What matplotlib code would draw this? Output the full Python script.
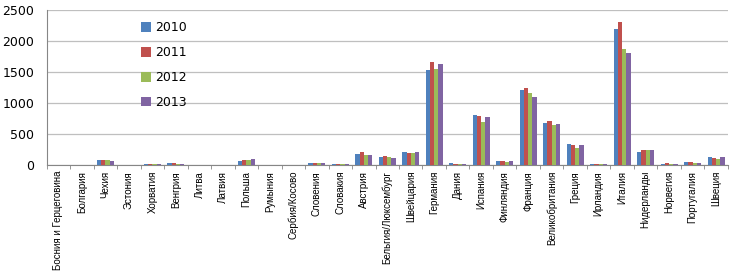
import numpy as np
import matplotlib.pyplot as plt

countries = ['Босния и Герцеговина', 'Болгария', 'Чехия', 'Эстония', 'Хорватия',
             'Венгрия', 'Литва', 'Латвия', 'Польша', 'Румыния', 'Сербия/Косово',
             'Словения', 'Словакия', 'Австрия', 'Бельгия/Люксембург', 'Швейцария',
             'Германия', 'Дания', 'Испания', 'Финляндия', 'Франция',
             'Великобритания', 'Греция', 'Ирландия', 'Италия', 'Нидерланды',
             'Норвегия', 'Португалия', 'Швеция']

y2010 = [5, 5, 80, 5, 27, 37, 5, 5, 70, 5, 5, 32, 21, 187, 139, 219,
         1536, 37, 814, 75, 1215, 675, 348, 16, 2195, 219, 27, 48, 139]
y2011 = [5, 5, 91, 5, 27, 37, 5, 5, 91, 5, 5, 32, 21, 214, 145, 203,
         1660, 30, 798, 75, 1242, 723, 321, 16, 2313, 241, 37, 48, 112]
y2012 = [5, 5, 80, 5, 27, 30, 5, 5, 86, 5, 5, 32, 21, 171, 139, 203,
         1558, 30, 696, 54, 1162, 648, 278, 16, 1874, 246, 27, 32, 107]
y2013 = [5, 5, 75, 5, 27, 25, 5, 5, 96, 5, 5, 38, 21, 166, 118, 214,
         1627, 25, 776, 75, 1103, 669, 332, 16, 1809, 246, 27, 37, 128]

years = ['2010', '2011', '2012', '2013']
colors = ['#4F81BD', '#C0504D', '#9BBB59', '#8064A2']


def main():
    fig = plt.figure(figsize=(7.3, 2.73), dpi=100)
    ax = fig.add_axes([0.064, 0.394, 0.933, 0.569])

    x = np.arange(len(countries))
    w = 0.18
    for i, (vals, c) in enumerate(zip([y2010, y2011, y2012, y2013], colors)):
        ax.bar(x + (i - 1.5) * w, vals, w, color=c, label=years[i], zorder=3)

    ax.set_xlim(-0.5, len(countries) - 0.5)
    ax.set_ylim(0, 2500)
    ax.set_yticks(np.arange(0, 2501, 500))
    ax.yaxis.grid(True, color='#BFBFBF', linewidth=0.9, zorder=0)
    ax.tick_params(axis='y', length=0, labelsize=9, pad=9)

    ax.set_xticks(x)
    ax.set_xticklabels(countries, rotation=90, fontsize=7, family='Liberation Sans')
    ax.set_xticks(np.arange(-0.5, len(countries)), minor=True)
    ax.tick_params(axis='x', which='major', length=0, pad=4)
    ax.tick_params(axis='x', which='minor', length=3, color='#868686')

    for s in ['top', 'right']:
        ax.spines[s].set_visible(False)
    ax.spines['left'].set_color('#868686')
    ax.spines['bottom'].set_color('#868686')

    ax.legend(loc='upper left', bbox_to_anchor=(0.122, 1.0), frameon=False,
              fontsize=9, labelspacing=0.95, handlelength=0.8, handleheight=0.8,
              handletextpad=0.3)

    fig.savefig('out.png', dpi=100)


if __name__ == '__main__':
    main()
